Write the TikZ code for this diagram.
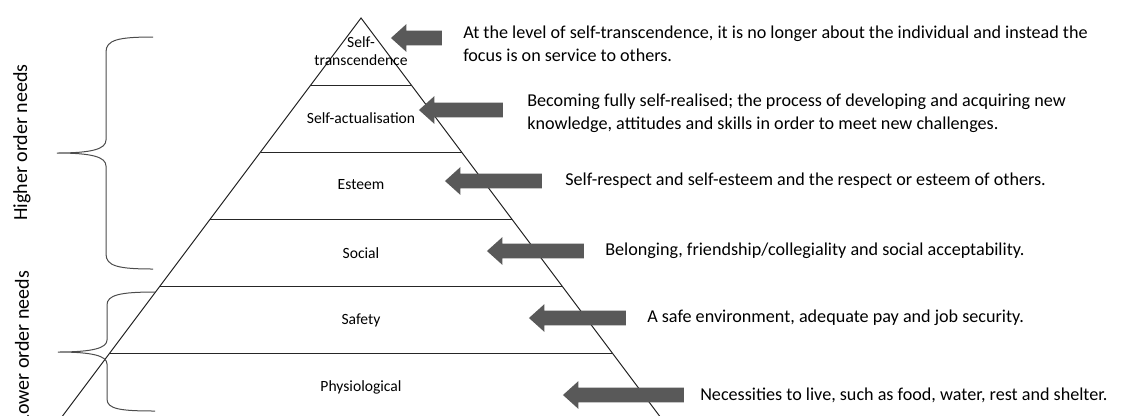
\documentclass[tikz,border=0pt]{standalone}
\usepackage{fontspec}
\setmainfont{Carlito}
\usetikzlibrary{calc,shapes.arrows}
\definecolor{arrowgray}{RGB}{89,89,89}

\begin{document}
\begin{tikzpicture}[x=0.75pt,y=-0.75pt,
    level line/.style={draw=black!85,line width=0.75pt},
    level node/.style={font=\fontsize{11.7}{13.5}\selectfont,align=center,inner sep=0pt},
    block arrow/.style={single arrow,shape border rotate=180,fill=arrowgray,inner xsep=0pt,inner ysep=5.25pt,text height=0pt,text depth=0pt,single arrow head extend=4.875pt,single arrow tip angle=84},
    info node/.style={anchor=west,align=left,inner sep=0pt,font=\fontsize{13.6}{17.25}\selectfont},
    brace line/.style={draw=black!70,line width=0.75pt},
    side node/.style={rotate=90,inner sep=0pt,font=\fontsize{15}{18}\selectfont}]
    \useasboundingbox (0,0) rectangle (1121,415);

    \coordinate (apex) at (361,18);
    \coordinate (bl) at (59.5,420);
    \coordinate (br) at (662.5,420);
    \draw[level line] (bl) -- (apex) -- (br) -- cycle;
    \foreach \k in {1,...,5}
        \draw[level line] ($(apex)!\k/6!(bl)$) -- ($(apex)!\k/6!(br)$);

    \node[level node] (trans) at (361,51) {Self-\\transcendence};
    \node[level node] (actual) at (361,118) {Self-actualisation};
    \node[level node] (esteem) at (361,185) {Esteem};
    \node[level node] (social) at (361,253) {Social};
    \node[level node] (safety) at (361,320) {Safety};
    \node[level node] (physio) at (361,387) {Physiological};

    \node[block arrow,minimum height=38.25pt] (a1) at (420.5,38) {};
    \node[block arrow,minimum height=63pt] (a2) at (465,110) {};
    \node[block arrow,minimum height=72.75pt] (a3) at (497.5,181) {};
    \node[block arrow,minimum height=72.75pt] (a4) at (539.5,251) {};
    \node[block arrow,minimum height=72.75pt] (a5) at (581.5,318) {};
    \node[block arrow,minimum height=90.75pt] (a6) at (627.5,395) {};

    \node[info node] (t1) at (463,43.5) {At the level of self-transcendence, it is no longer about the individual and instead the\\focus is on service to others.};
    \node[info node] (t2) at (527,113.5) {Becoming fully self-realised; the process of developing and acquiring new\\knowledge, attitudes and skills in order to meet new challenges.};
    \node[info node] (t3) at (565,181) {Self-respect and self-esteem and the respect or esteem of others.};
    \node[info node] (t4) at (605,251) {Belonging, friendship/collegiality and social acceptability.};
    \node[info node] (t5) at (647,318) {A safe environment, adequate pay and job security.};
    \node[info node] (t6) at (700,395) {Necessities to live, such as food, water, rest and shelter.};

    \coordinate (hi top) at (153,37);
    \coordinate (hi mid) at (57,153);
    \coordinate (hi bot) at (153,269);
    \draw[brace line] (hi top) .. controls (118,37) and (106,40) .. (106,52) -- (106,140)
        .. controls (106,149) and (92,153) .. (hi mid)
        .. controls (92,153) and (106,157) .. (106,166) -- (106,254)
        .. controls (106,266) and (118,269) .. (hi bot);

    \coordinate (lo top) at (155,292);
    \coordinate (lo mid) at (58,352);
    \coordinate (lo bot) at (155,411);
    \draw[brace line] (lo top) .. controls (120,292) and (107,295) .. (107,305) -- (107,340)
        .. controls (107,348) and (93,352) .. (lo mid)
        .. controls (93,352) and (107,356) .. (107,364) -- (107,399)
        .. controls (107,409) and (120,411) .. (lo bot);

    \node[side node] (higher) at (22,142.5) {Higher order needs};
    \node[side node] (lower) at (22,347) {Lower order needs};
\end{tikzpicture}
\end{document}
